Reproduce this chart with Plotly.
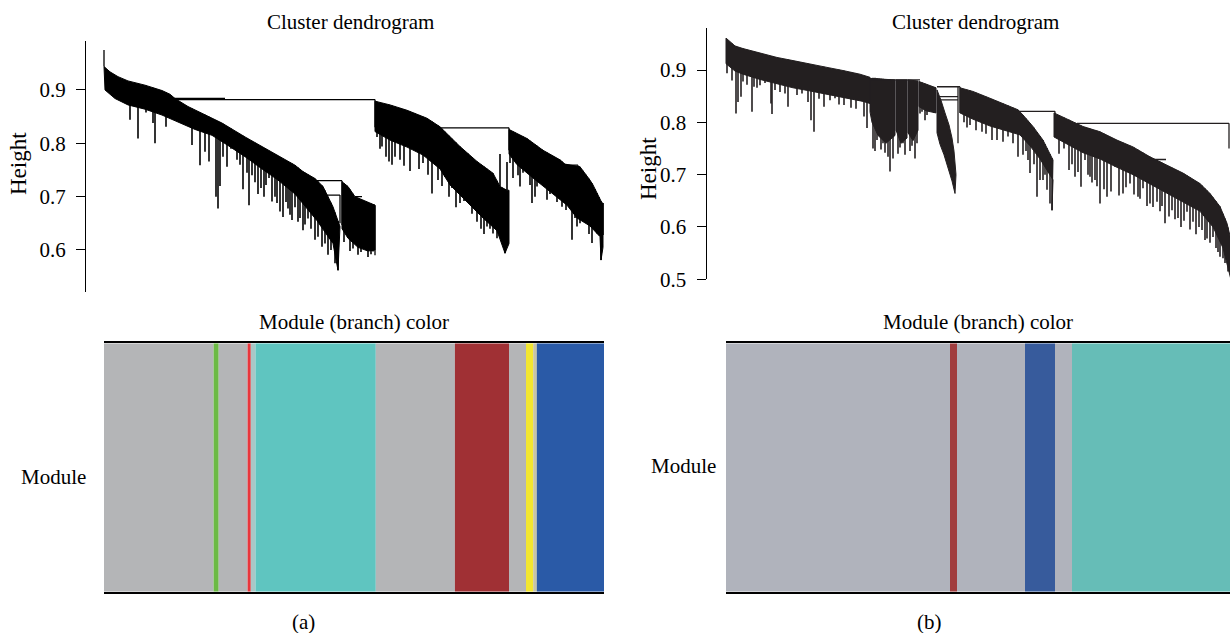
import numpy as np
import plotly.graph_objects as go

FONT = "Liberation Serif"
W, H = 1230, 633

# ---------------- Panel (a): dendrogram data (leaf order position, height) ----------------
A_TICKS = [0.6, 0.7, 0.8, 0.9]
A_TICK_LABELS = ["0.6", "0.7", "0.8", "0.9"]
A_FIRST_LEAF = [(0, 0.944, 0.975)]

A_BAND1_TOP = [(0, 0.944), (6, 0.934), (14, 0.925), (24, 0.917), (41, 0.909), (58, 0.899), (66, 0.892),
               (71, 0.884), (84, 0.869), (108, 0.847), (118, 0.838), (141, 0.812), (164, 0.787), (181, 0.769),
               (191, 0.759), (199, 0.747), (211, 0.734), (219, 0.719), (229, 0.681), (236, 0.644), (234, 0.562)]
A_BAND1_BOTTOM = [(1, 0.900), (11, 0.884), (24, 0.872), (41, 0.864), (58, 0.853), (71, 0.842), (91, 0.826),
                  (108, 0.815), (124, 0.796), (141, 0.775), (158, 0.752), (174, 0.731), (191, 0.705),
                  (213, 0.655), (229, 0.612), (234, 0.562)]
A_BAND2_TOP = [(238, 0.728), (244, 0.719), (251, 0.700), (258, 0.694), (266, 0.688), (271, 0.684)]
A_BAND2_BOTTOM = [(238, 0.640), (244, 0.622), (254, 0.605), (264, 0.598), (271, 0.600)]
A_BAND3_TOP = [(271, 0.879), (286, 0.872), (303, 0.862), (323, 0.847), (336, 0.831), (356, 0.794), (373, 0.766),
               (389, 0.744), (396, 0.719), (403, 0.712), (405, 0.712), (405, 0.619)]
A_BAND3_BOTTOM = [(271, 0.822), (286, 0.806), (303, 0.793), (319, 0.778), (336, 0.752), (346, 0.722),
                  (356, 0.703), (366, 0.684), (379, 0.660), (393, 0.636), (401, 0.594), (405, 0.612)]
A_BAND4_TOP = [(405, 0.826), (423, 0.809), (439, 0.787), (456, 0.769), (461, 0.761), (476, 0.756), (486, 0.731),
               (489, 0.722), (498, 0.688), (499, 0.688), (499, 0.613)]
A_BAND4_BOTTOM = [(405, 0.780), (413, 0.760), (429, 0.735), (446, 0.709), (463, 0.684), (473, 0.660),
                  (486, 0.645), (496, 0.625), (497, 0.581), (499, 0.605)]

A_MERGES_H = [(71, 271, 0.882), (69, 121, 0.884), (211, 238, 0.730), (221, 236, 0.703), (251, 258, 0.700),
              (258, 271, 0.684), (336, 405, 0.829), (461, 474, 0.759), (463, 470, 0.745)]
A_MERGES_V = [(271, 0.882, 0.830), (238, 0.730, 0.647), (236, 0.703, 0.650), (271, 0.684, 0.590),
              (405, 0.829, 0.787), (474, 0.759, 0.700), (470, 0.745, 0.700)]

A_LEAF_X = [26, 34, 42, 49, 51, 62, 88, 96, 101, 105, 114, 119, 123, 133, 139, 145, 151, 157, 162, 168, 173,
            179, 184, 188, 194, 199, 204, 211, 218, 224, 231, 234, 243, 249, 254, 259, 264, 269,
            273, 278, 285, 291, 296, 311, 319, 324, 334, 341, 348, 356, 364, 373, 383, 389, 398, 401,
            406, 411, 416, 423, 428, 433, 443, 449, 458, 468, 473, 479, 488, 493, 497,
            112, 116, 127, 136, 143, 148, 154, 160, 165, 171, 176, 182, 186, 191, 196, 201, 207, 214, 221,
            227, 240, 246, 252, 257, 262, 267, 276, 282, 288, 300, 306, 315, 328, 338, 345, 352, 360, 368,
            377, 380, 386, 393, 396, 403, 409, 414, 419, 426, 431, 438, 446, 453, 456, 462, 466, 471, 476,
            482, 485, 491, 495, 499]
A_LEAF_H = [0.844, 0.809, 0.858, 0.838, 0.800, 0.831, 0.797, 0.759, 0.784, 0.766, 0.678, 0.775, 0.756, 0.769,
            0.714, 0.684, 0.727, 0.716, 0.722, 0.691, 0.688, 0.662, 0.678, 0.656, 0.653, 0.637, 0.659, 0.619,
            0.606, 0.591, 0.575, 0.562, 0.631, 0.603, 0.591, 0.606, 0.587, 0.597,
            0.812, 0.794, 0.766, 0.775, 0.769, 0.797, 0.763, 0.741, 0.731, 0.737, 0.716, 0.688, 0.700, 0.653,
            0.644, 0.631, 0.616, 0.594,
            0.763, 0.775, 0.719, 0.750, 0.688, 0.719, 0.694, 0.706, 0.681, 0.619, 0.644, 0.662, 0.613, 0.631,
            0.581,
            0.700, 0.720, 0.790, 0.760, 0.745, 0.740, 0.705, 0.700, 0.735, 0.700, 0.672, 0.690, 0.666, 0.680,
            0.660, 0.648, 0.640, 0.625, 0.612, 0.600, 0.615, 0.598, 0.612, 0.596, 0.603, 0.592, 0.790, 0.775,
            0.760, 0.758, 0.748, 0.752, 0.706, 0.720, 0.700, 0.680, 0.692, 0.668, 0.640, 0.630, 0.640, 0.622,
            0.780, 0.765, 0.735, 0.740, 0.745, 0.722, 0.700, 0.735, 0.705, 0.690, 0.712, 0.675, 0.690, 0.660,
            0.650, 0.672, 0.630, 0.655, 0.640, 0.628, 0.618, 0.600]

# ---------------- Panel (b): dendrogram data ----------------
B_TICKS = [0.5, 0.6, 0.7, 0.8, 0.9]
B_TICK_LABELS = ["0.5", "0.6", "0.7", "0.8", "0.9"]

B_BAND1_TOP = [(0, 0.961), (4, 0.954), (9, 0.946), (17, 0.941), (34, 0.932), (51, 0.924), (67, 0.918),
               (84, 0.911), (101, 0.905), (117, 0.899), (134, 0.892), (144, 0.886)]
B_BAND1_BOTTOM = [(0, 0.912), (9, 0.898), (17, 0.892), (34, 0.882), (51, 0.874), (67, 0.866), (84, 0.860),
                  (101, 0.854), (117, 0.847), (137, 0.840), (144, 0.836)]
B_BAND2_TOP = [(144, 0.884), (169, 0.881)]
B_BAND2_BOTTOM = [(144, 0.820), (146, 0.800), (152, 0.775), (160, 0.760), (169, 0.775)]
B_BAND3_TOP = [(170, 0.881), (181, 0.881)]
B_BAND3_BOTTOM = [(170, 0.785), (175, 0.760), (181, 0.770)]
B_BAND4_TOP = [(182, 0.881), (192, 0.879)]
B_BAND4_BOTTOM = [(182, 0.780), (187, 0.765), (192, 0.785)]
B_BAND5_TOP = [(193, 0.878), (210, 0.866)]
B_BAND5_BOTTOM = [(193, 0.830), (200, 0.822), (210, 0.818)]
B_BAND6_TOP = [(211, 0.862), (215, 0.842), (219, 0.818), (223, 0.795), (226, 0.770), (228, 0.745),
               (230, 0.700), (229, 0.664)]
B_BAND6_BOTTOM = [(211, 0.780), (214, 0.758), (218, 0.738), (222, 0.715), (226, 0.688), (229, 0.664)]
B_BAND7_TOP = [(234, 0.866), (247, 0.859), (264, 0.846), (281, 0.833), (292, 0.824), (297, 0.814),
               (307, 0.792), (317, 0.766), (327, 0.728), (326, 0.632)]
B_BAND7_BOTTOM = [(234, 0.818), (247, 0.806), (264, 0.793), (281, 0.784), (294, 0.776), (304, 0.755),
                  (314, 0.730), (327, 0.690), (326, 0.632)]
B_BAND8_TOP = [(328, 0.818), (344, 0.804), (357, 0.792), (374, 0.782), (391, 0.766), (407, 0.753),
               (424, 0.734), (441, 0.718), (457, 0.703), (474, 0.683), (484, 0.664), (494, 0.639),
               (501, 0.607), (505, 0.575), (505, 0.499)]
B_BAND8_BOTTOM = [(328, 0.772), (341, 0.758), (357, 0.742), (374, 0.730), (391, 0.714), (407, 0.700),
                  (424, 0.682), (441, 0.665), (457, 0.648), (474, 0.630), (487, 0.600), (497, 0.560),
                  (505, 0.499)]

B_MERGES_H = [(144, 194, 0.881), (211, 234, 0.868), (212, 232, 0.849), (214, 232, 0.843),
              (292, 329, 0.821), (351, 503, 0.798), (423, 440, 0.729)]
B_MERGES_V = [(232, 0.868, 0.760), (329, 0.821, 0.773), (503, 0.798, 0.750), (234, 0.868, 0.818)]

B_LEAF_X = [1, 10, 12, 15, 17, 26, 28, 34, 39, 45, 46, 49, 59, 62, 76, 82, 85, 88, 98, 109, 118, 138, 141,
            147, 151, 153, 157, 162, 164, 167, 177, 179, 189, 191, 194, 199, 201,
            244, 250, 266, 271, 277, 282, 292, 297, 304, 311, 317, 321, 324, 326,
            338, 343, 349, 355, 359, 364, 369, 374, 381, 389, 397, 404, 412, 417, 424, 431, 439, 446, 452,
            461, 467, 476, 481, 487, 494, 499,
            6, 21, 31, 54, 71, 93, 104, 113, 125, 130, 149, 155, 159, 172, 174, 184, 186, 196, 205, 208,
            238, 241, 256, 260, 287, 300, 302, 308, 314, 319, 333, 346, 352, 362, 366, 371, 378, 385, 393,
            400, 408, 414, 421, 427, 434, 436, 443, 449, 455, 458, 464, 470, 473, 479, 484, 490, 492, 497, 502]
B_LEAF_H = [0.894, 0.817, 0.839, 0.849, 0.878, 0.820, 0.868, 0.871, 0.875, 0.836, 0.816, 0.862, 0.855, 0.830,
            0.855, 0.839, 0.804, 0.782, 0.830, 0.846, 0.833, 0.811, 0.789,
            0.750, 0.766, 0.779, 0.760, 0.734, 0.706, 0.731, 0.760, 0.738, 0.731, 0.760, 0.817, 0.804, 0.814,
            0.795, 0.785, 0.766, 0.766, 0.763, 0.773, 0.734, 0.738, 0.703, 0.658, 0.690, 0.671, 0.645, 0.632,
            0.750, 0.709, 0.696, 0.677, 0.728, 0.696, 0.690, 0.645, 0.658, 0.715, 0.664, 0.683, 0.658, 0.674,
            0.645, 0.648, 0.607, 0.632, 0.617, 0.629, 0.610, 0.594, 0.578, 0.581, 0.543, 0.531,
            0.880, 0.872, 0.866, 0.858, 0.852, 0.845, 0.842, 0.834, 0.828, 0.826, 0.745, 0.748, 0.742, 0.740,
            0.752, 0.745, 0.755, 0.820, 0.822, 0.818,
            0.800, 0.790, 0.782, 0.778, 0.760, 0.745, 0.728, 0.720, 0.690, 0.700, 0.740, 0.720, 0.705, 0.700,
            0.685, 0.678, 0.672, 0.668, 0.660, 0.676, 0.662, 0.654, 0.640, 0.638, 0.630, 0.640, 0.620, 0.615,
            0.600, 0.612, 0.595, 0.586, 0.600, 0.575, 0.570, 0.560, 0.552, 0.540, 0.515]

# ---------------- Module colour bars ----------------
A_MODULE_EDGES = [0, 109.6, 114.7, 143.6, 146.8, 151.5, 271.8, 350.9, 405, 422, 429.2, 432.8, 500]
A_MODULE_COLORS = ["#b4b5b7", "#6cba45", "#b4b5b7", "#e8363c", "#a9c7c6", "#5fc5c0", "#b4b5b7",
                   "#a03034", "#b4b5b7", "#f2e630", "#c6c4a6", "#2a5aa7"]
B_MODULE_EDGES = [0, 224, 231, 299, 329, 346, 506]
B_MODULE_COLORS = ["#b0b3bc", "#a13d3e", "#b0b3bc", "#375b9c", "#b0b3bc", "#66bdb7"]

A_INK = "#000000"
B_INK = "#231f20"


def monotone(pts):
    out = []
    for x, h in pts:
        if not out or x > out[-1][0]:
            out.append((x, h))
    return out


def add_dendrogram(fig, bands, merges_h, merges_v, leaf_x, leaf_h, ink, xa, ya, first=None):
    prof = sorted([p for top, _ in bands for p in monotone(top)])
    px = np.array([p[0] for p in prof], float)
    ph = np.array([p[1] for p in prof], float)
    lx, ly = [], []
    for x, h in zip(leaf_x, leaf_h):
        lx += [x, x, None]
        ly += [h, float(np.interp(x, px, ph)), None]
    fig.add_trace(go.Scatter(x=lx, y=ly, mode="lines", line=dict(color=ink, width=1.6),
                             hoverinfo="skip", showlegend=False, xaxis=xa, yaxis=ya))
    for top, bottom in bands:
        xs = [p[0] for p in top] + [p[0] for p in reversed(bottom)]
        ys = [p[1] for p in top] + [p[1] for p in reversed(bottom)]
        fig.add_trace(go.Scatter(x=xs + [xs[0]], y=ys + [ys[0]], mode="lines", fill="toself",
                                 fillcolor=ink, line=dict(color=ink, width=1),
                                 hoverinfo="skip", showlegend=False, xaxis=xa, yaxis=ya))
    mx, my = [], []
    for x1, x2, h in merges_h:
        mx += [x1, x2, None]
        my += [h, h, None]
    for x, h1, h2 in merges_v:
        mx += [x, x, None]
        my += [h1, h2, None]
    if first:
        for x, h1, h2 in first:
            mx += [x, x, None]
            my += [h1, h2, None]
    fig.add_trace(go.Scatter(x=mx, y=my, mode="lines", line=dict(color=ink, width=1.3),
                             hoverinfo="skip", showlegend=False, xaxis=xa, yaxis=ya))


def add_modules(fig, edges, colors, xa, ya):
    mids = [(a + b) / 2 for a, b in zip(edges[:-1], edges[1:])]
    widths = [b - a for a, b in zip(edges[:-1], edges[1:])]
    fig.add_trace(go.Bar(x=mids, y=[1] * len(mids), width=widths,
                         marker=dict(color=colors, line=dict(width=0)),
                         hoverinfo="skip", showlegend=False, xaxis=xa, yaxis=ya))


fig = go.Figure()
add_dendrogram(fig,
               [(A_BAND1_TOP, A_BAND1_BOTTOM), (A_BAND2_TOP, A_BAND2_BOTTOM),
                (A_BAND3_TOP, A_BAND3_BOTTOM), (A_BAND4_TOP, A_BAND4_BOTTOM)],
               A_MERGES_H, A_MERGES_V, A_LEAF_X, A_LEAF_H, A_INK, "x", "y", A_FIRST_LEAF)
add_dendrogram(fig,
               [(B_BAND1_TOP, B_BAND1_BOTTOM), (B_BAND2_TOP, B_BAND2_BOTTOM), (B_BAND3_TOP, B_BAND3_BOTTOM),
                (B_BAND4_TOP, B_BAND4_BOTTOM), (B_BAND5_TOP, B_BAND5_BOTTOM), (B_BAND6_TOP, B_BAND6_BOTTOM),
                (B_BAND7_TOP, B_BAND7_BOTTOM), (B_BAND8_TOP, B_BAND8_BOTTOM)],
               B_MERGES_H, B_MERGES_V, B_LEAF_X, B_LEAF_H, B_INK, "x2", "y2")
add_modules(fig, A_MODULE_EDGES, A_MODULE_COLORS, "x3", "y3")
add_modules(fig, B_MODULE_EDGES, B_MODULE_COLORS, "x4", "y4")


def py(p):
    return 1 - p / H


def px_(p):
    return p / W


yax_common = dict(showline=True, linecolor="black", linewidth=1.3, ticks="outside", ticklen=9,
                  tickwidth=1.3, tickcolor="black", showgrid=False, zeroline=False, automargin=False,
                  ticklabelstandoff=6,
                  tickfont=dict(family=FONT, size=21, color="black"))
bar_x_common = dict(showline=True, mirror=True, linecolor="black", linewidth=1.6, ticks="",
                    showticklabels=False, showgrid=False, zeroline=False, automargin=False)

fig.update_layout(
    width=W, height=H, autosize=False,
    margin=dict(l=0, r=0, t=0, b=0, pad=0, autoexpand=False),
    showlegend=False,
    paper_bgcolor="white", plot_bgcolor="white", barmode="overlay",
    font=dict(family=FONT, color="black"),
    xaxis=dict(domain=[px_(86), px_(610)], range=[-18, 506], visible=False, anchor="y", automargin=False),
    yaxis=dict(domain=[py(291.7), py(40.7)], range=[0.5218, 0.9924], anchor="x",
               tickvals=A_TICKS, ticktext=A_TICK_LABELS, **yax_common),
    xaxis2=dict(domain=[px_(706.7), 1.0], range=[-19.3, 504], visible=False, anchor="y2", automargin=False),
    yaxis2=dict(domain=[py(279.3), py(28.3)], range=[0.5, 0.9797], anchor="x2",
                tickvals=B_TICKS, ticktext=B_TICK_LABELS, **yax_common),
    xaxis3=dict(domain=[px_(104), px_(604)], range=[0, 500], anchor="y3", **bar_x_common),
    yaxis3=dict(domain=[py(591.7), py(343.3)], range=[0, 1], visible=False, anchor="x3", automargin=False),
    xaxis4=dict(domain=[px_(726), 1.0], range=[0, 504], anchor="y4", **bar_x_common),
    yaxis4=dict(domain=[py(591.7), py(343.3)], range=[0, 1], visible=False, anchor="x4", automargin=False),
)

TEXTS = [
    ("Cluster dendrogram", 351, 22, 21, 0),
    ("Cluster dendrogram", 975, 22, 21, 0),
    ("Height", 19, 164, 23, -90),
    ("Height", 648, 169, 23, -90),
    ("Module (branch) color", 353.5, 321.7, 21, 0),
    ("Module (branch) color", 978, 321.7, 21, 0),
    ("Module", 53.4, 476.7, 21, 0),
    ("Module", 683, 465.7, 21, 0),
    ("(a)", 303, 621.7, 21, 0),
    ("(b)", 929, 621.7, 21, 0),
]
for t, x, y, s, ang in TEXTS:
    fig.add_annotation(text=t, x=px_(x), y=py(y), xref="paper", yref="paper", showarrow=False,
                       xanchor="center", yanchor="middle", textangle=ang,
                       font=dict(family=FONT, size=s, color="black"))

fig.write_html("out.html", config={"responsive": False})
